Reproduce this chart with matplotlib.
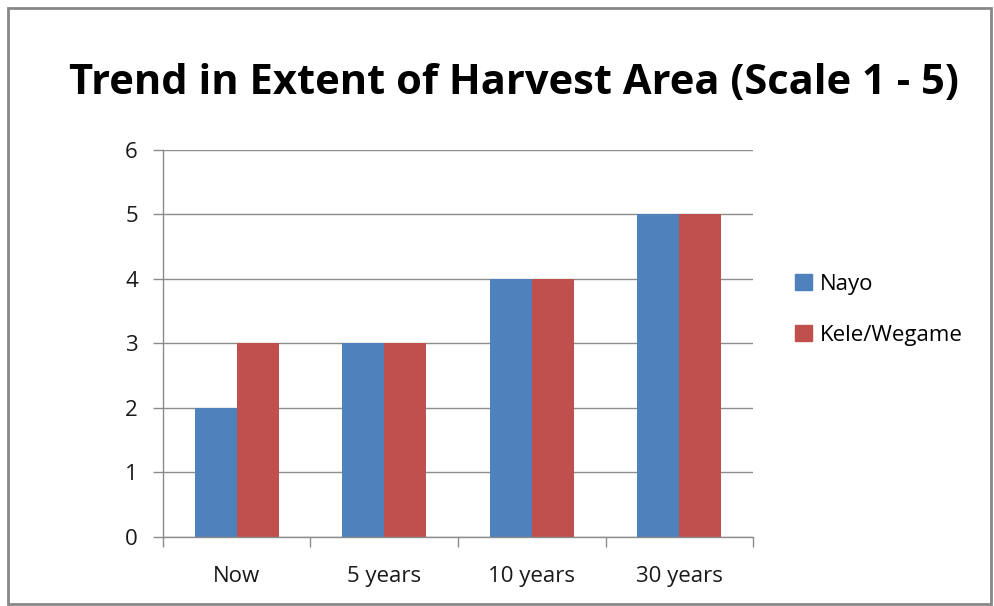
import matplotlib.pyplot as plt
import matplotlib.patches as mpatches
import numpy as np

# --- dati ---
categories = ["Now", "5 years", "10 years", "30 years"]
nayo = [2, 3, 4, 5]
kele = [3, 3, 4, 5]
series_names = ["Nayo", "Kele/Wegame"]
colors = ["#4F81BD", "#C0504D"]

plt.rcParams['font.family'] = ['Open Sans', 'DejaVu Sans']

fig = plt.figure(figsize=(9.95, 6.06), dpi=100)
ax = fig.add_axes([0.1638, 0.1139, 0.5930, 0.6386])

x = np.arange(len(categories))
w = 0.285
ax.bar(x - w / 2, nayo, w, color=colors[0], label=series_names[0])
ax.bar(x + w / 2, kele, w, color=colors[1], label=series_names[1])

ax.set_xlim(-0.5, len(categories) - 0.5)
ax.set_ylim(0, 6)
ax.set_yticks(range(0, 7))
ax.set_xticks(x)
ax.set_xticklabels(categories)
ax.set_xticks(np.arange(-0.5, len(categories)), minor=True)

ax.grid(axis='y', color='#8c8c8c', linewidth=1)
ax.set_axisbelow(True)
for s in ['top', 'right']:
    ax.spines[s].set_visible(False)
for s in ['left', 'bottom']:
    ax.spines[s].set_color('#8c8c8c')
    ax.spines[s].set_linewidth(1)

ax.tick_params(axis='y', length=7, width=1, color='#8c8c8c', labelsize=16, pad=11, labelcolor='#1a1a1a')
ax.tick_params(axis='x', which='major', length=0, labelsize=16, pad=21, labelcolor='#1a1a1a')
ax.tick_params(axis='x', which='minor', length=7, width=1, color='#8c8c8c')

fig.text(0.517, 0.862, "Trend in Extent of Harvest Area (Scale 1 - 5)",
         ha='center', va='center', fontsize=30, fontweight='bold')

handles = [mpatches.Patch(color=c, label=n) for c, n in zip(colors, series_names)]
fig.legend(handles=handles, loc='center left', bbox_to_anchor=(0.779, 0.489),
           frameon=False, fontsize=16, handlelength=0.75, handleheight=0.75,
           handletextpad=0.35, labelspacing=1.35)

# bordo grigio attorno al grafico
fig.patches.append(mpatches.Rectangle((0.008, 0.003), 0.988, 0.984, transform=fig.transFigure,
                                      fill=False, edgecolor='#888888', linewidth=2))

plt.savefig("out.png", dpi=100)
